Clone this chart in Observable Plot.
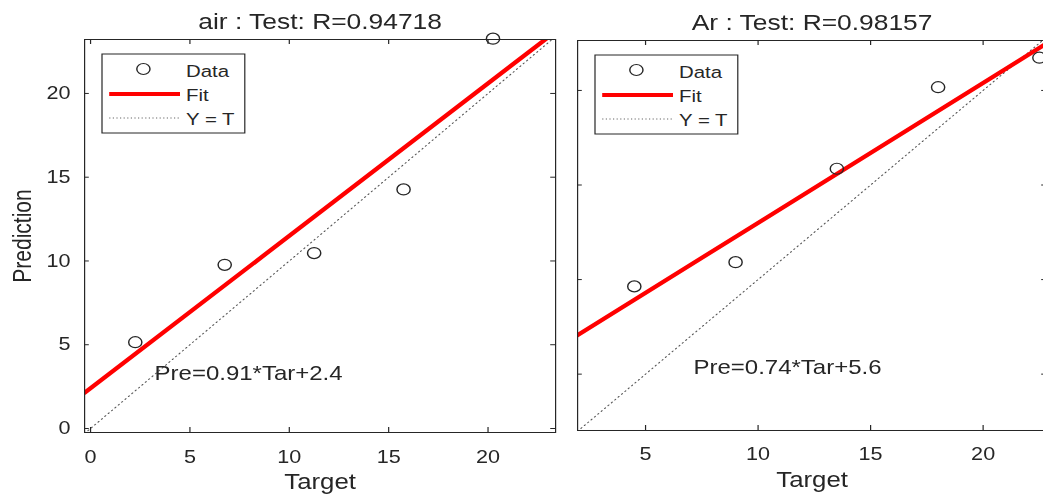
<!DOCTYPE html>
<html><head><meta charset="utf-8">
<script src="https://cdn.jsdelivr.net/npm/d3@7"></script>
<script src="https://cdn.jsdelivr.net/npm/@observablehq/plot@0.6"></script>
<style>
html,body{margin:0;padding:0;background:#fff;overflow:hidden;width:1043px;height:494px}
#wrap{position:absolute;left:0;top:0;display:flex;transform:scaleX(1.2);transform-origin:0 0;}
#wrap svg{flex:none;max-width:none !important;font-family:"Liberation Sans",Arial,sans-serif;}
</style></head><body><div id="wrap"></div>
<script>
// ---- data ----
const gases = ["air", "Ar"];
const rValues = ["0.94718", "0.98157"];
const targetAir = [2.25, 6.75, 11.25, 15.75, 20.25];
const predAir   = [5.15, 9.77, 10.47, 14.27, 23.27];
const targetAr  = [4.5, 9, 13.5, 18, 22.5];
const predAr    = [9.64, 10.92, 15.86, 20.17, 21.73];
const fitSlopes = [0.91, 0.74];
const fitIntercepts = [2.4, 5.6];
const xTicksAir = [0, 5, 10, 15, 20];
const xTicksAr = [5, 10, 15, 20];
const yTicks = [0, 5, 10, 15, 20];
const legendLabels = ["Data", "Fit", "Y = T"];

const INK = "#262626";
const FONT = '"Liberation Sans", Arial, sans-serif';

function panel(cfg) {
  const {width, mL, mR, mT, mB, xd, yd, tx, ty, yLabels, pts, slope, intercept, title, eq, ylab, tdy, txPad} = cfg;
  const height = 494;
  const fh = height - mT - mB, fw = width - mL - mR;
  const diag = [{x: Math.min(xd[0], yd[0]), y: Math.min(xd[0], yd[0])}, {x: Math.max(xd[1], yd[1]), y: Math.max(xd[1], yd[1])}];
  const fit = [xd[0], xd[1]].map(x => ({x, y: slope * x + intercept}));
  const marks = [
    Plot.line(diag, {x: "x", y: "y", stroke: "#555", strokeWidth: 1, strokeDasharray: "1,3", clip: true}),
    Plot.line(fit, {x: "x", y: "y", stroke: "#ff0000", strokeWidth: 4, clip: true}),
    Plot.dot(pts, {x: "t", y: "p", r: 5.5, stroke: INK, strokeWidth: 1.2, fill: "none"}),
    Plot.frame({stroke: INK, strokeWidth: 1}),
    Plot.tickX(tx, {x: d => d, insetTop: fh - 5, stroke: INK}),
    Plot.tickX(tx, {x: d => d, insetBottom: fh - 5, stroke: INK}),
    Plot.tickY(ty, {y: d => d, insetRight: fw - 4, stroke: INK}),
    Plot.tickY(ty, {y: d => d, insetLeft: fw - 4, stroke: INK}),
    Plot.axisX(tx, {tickSize: 0, tickPadding: txPad, fontSize: 18, fill: INK}),
    Plot.text([title], {text: d => d, frameAnchor: "top", dy: tdy, fontSize: 22, fill: INK, lineAnchor: "middle"}),
    Plot.text(["Target"], {text: d => d, frameAnchor: "bottom", dy: 50, fontSize: 21.5, fill: INK, lineAnchor: "middle"}),
    Plot.text([eq.text], {x: () => eq.x, y: () => eq.y, text: d => d, textAnchor: "start", fontSize: 20, fill: INK, lineAnchor: "middle"})
  ];
  if (yLabels) {
    marks.push(Plot.axisY(ty, {tickSize: 0, tickPadding: 11.7, fontSize: 18, fill: INK}));
  }
  if (ylab) {
    marks.push(Plot.text([ylab], {text: d => d, frameAnchor: "left", textAnchor: "middle", dx: -51, dy: 0, rotate: -90, fontSize: 21, fill: INK, lineAnchor: "middle"}));
  }
  const svg = Plot.plot({
    width, height, marginLeft: mL, marginRight: mR, marginTop: mT, marginBottom: mB,
    x: {domain: xd}, y: {domain: yd, axis: yLabels ? undefined : null},
    style: {fontFamily: FONT, color: INK, background: "transparent", overflow: "visible"},
    marks
  });
  // legend box (MATLAB style)
  const bx = mL + 15, by = mT + 15, bw = 119, bh = 79;
  const g = d3.select(svg).append("g").attr("font-family", FONT).attr("font-size", 17).attr("fill", INK).attr("text-anchor", "start");
  g.append("rect").attr("x", bx).attr("y", by).attr("width", bw).attr("height", bh).attr("fill", "#fff").attr("stroke", INK).attr("stroke-width", 1);
  g.append("circle").attr("cx", bx + 34.5).attr("cy", by + 15).attr("r", 5.5).attr("fill", "none").attr("stroke", INK).attr("stroke-width", 1.2);
  g.append("line").attr("x1", bx + 6).attr("x2", bx + 65).attr("y1", by + 40).attr("y2", by + 40).attr("stroke", "#ff0000").attr("stroke-width", 4);
  g.append("line").attr("x1", bx + 6).attr("x2", bx + 65).attr("y1", by + 64).attr("y2", by + 64).attr("stroke", "#666").attr("stroke-width", 1).attr("stroke-dasharray", "1,2");
  [17, 41, 65].forEach((dy, i) => {
    g.append("text").attr("x", bx + 70).attr("y", by + dy).attr("dy", "0.35em").attr("text-anchor", "start").text(legendLabels[i]);
  });
  return svg;
}

const wrap = document.getElementById("wrap");
wrap.appendChild(panel({
  width: 470, mL: 70, mR: 7.5, mT: 39, mB: 62,
  xd: [-0.30, 23.40], yd: [-0.24, 23.22], tx: xTicksAir, ty: yTicks, yLabels: true,
  pts: targetAir.map((t, i) => ({t, p: predAir[i]})),
  slope: fitSlopes[0], intercept: fitIntercepts[0],
  title: `${gases[0]} : Test: R=${rValues[0]}`,
  eq: {text: `Pre=${fitSlopes[0]}*Tar+${fitIntercepts[0]}`, x: 3.22, y: 3.28},
  ylab: "Prediction", tdy: -17.3, txPad: 18
}));
wrap.appendChild(panel({
  width: 411.67, mL: 10.83, mR: 10, mT: 40, mB: 64,
  xd: [1.98, 22.82], yd: [2.02, 22.64], tx: xTicksAr, ty: yTicks.slice(1), yLabels: false,
  pts: targetAr.map((t, i) => ({t, p: predAr[i]})),
  slope: fitSlopes[1], intercept: fitIntercepts[1],
  title: `${gases[1]} : Test: R=${rValues[1]}`,
  eq: {text: `Pre=${fitSlopes[1]}*Tar+${fitIntercepts[1]}`, x: 7.13, y: 5.37},
  ylab: null, tdy: -17.5, txPad: 17
}));
</script>
</body></html>
